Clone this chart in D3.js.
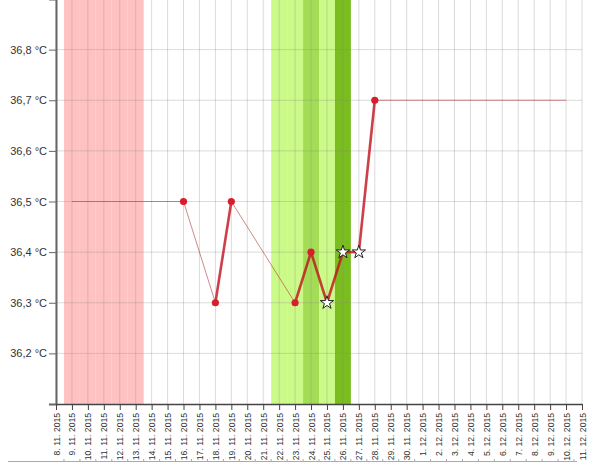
<!DOCTYPE html>
<html>
<head>
<meta charset="utf-8">
<script src="https://cdn.jsdelivr.net/npm/d3@7/dist/d3.min.js"></script>
<style>
    body { margin: 0; background: #fff; }
    svg { display: block; }
    text { font-family: "Liberation Sans", Arial, sans-serif; }
</style>
</head>
<body>
<script>
// x axis days (tick labels)
var tickLabels = ["8. 11. 2015", "9. 11. 2015", "10. 11. 2015", "11. 11. 2015", "12. 11. 2015",
    "13. 11. 2015", "14. 11. 2015", "15. 11. 2015", "16. 11. 2015", "17. 11. 2015",
    "18. 11. 2015", "19. 11. 2015", "20. 11. 2015", "21. 11. 2015", "22. 11. 2015",
    "23. 11. 2015", "24. 11. 2015", "25. 11. 2015", "26. 11. 2015", "27. 11. 2015",
    "28. 11. 2015", "29. 11. 2015", "30. 11. 2015", "1. 12. 2015", "2. 12. 2015",
    "3. 12. 2015", "4. 12. 2015", "5. 12. 2015", "6. 12. 2015", "7. 12. 2015",
    "8. 12. 2015", "9. 12. 2015", "10. 12. 2015", "11. 12. 2015"];

var yTicks = [36.2, 36.3, 36.4, 36.5, 36.6, 36.7, 36.8];

// measured temperatures
var measureDays = ["16. 11. 2015", "18. 11. 2015", "19. 11. 2015", "23. 11. 2015", "24. 11. 2015",
    "25. 11. 2015", "26. 11. 2015", "27. 11. 2015", "28. 11. 2015"];
var measureTemps = [36.5, 36.3, 36.5, 36.3, 36.4, 36.3, 36.4, 36.4, 36.7];
var measureMarks = ["dot", "dot", "dot", "dot", "dot", "star", "star", "star", "dot"];

// line continued before first / after last measure
var leadDay = "9. 11. 2015", leadTemp = 36.5;
var trailDay = "10. 12. 2015", trailTemp = 36.7;

// coloured day bands
var bandDays = ["9. 11. 2015", "10. 11. 2015", "11. 11. 2015", "12. 11. 2015", "13. 11. 2015",
    "22. 11. 2015", "23. 11. 2015", "24. 11. 2015", "25. 11. 2015", "26. 11. 2015"];
var bandKinds = ["period", "period", "period", "period", "period",
    "fertile", "fertile", "fertileHigh", "fertile", "peak"];

var bandColors = {
    period: "#ffc2c2",
    fertile: "#cbfa88",
    fertileHigh: "#a4dd55",
    peak: "#79bd1f"
};

var width = 600,
    height = 463;

var svg = d3.select('body')
    .append('svg')
    .attr('width', width)
    .attr('height', height);

var x = d3.scalePoint()
    .domain(tickLabels)
    .range([56, 582]);

var step = x.step();

var y = d3.scaleLinear()
    .domain([36.1, 36.9])
    .range([404, -1]);

// bands
for (var b = 0; b < bandDays.length; ++b) {
    svg.append("rect")
        .attr("x", x(bandDays[b]) - step / 2)
        .attr("y", 0)
        .attr("width", step)
        .attr("height", y(36.1))
        .attr("fill", bandColors[bandKinds[b]]);
}

// grid
svg.append("g")
    .selectAll("line")
    .data(tickLabels)
    .enter()
    .append("line")
    .attr("x1", function (d) { return x(d); })
    .attr("x2", function (d) { return x(d); })
    .attr("y1", 0)
    .attr("y2", y(36.1))
    .attr("stroke", "#888")
    .attr("stroke-opacity", 0.3);

svg.append("g")
    .selectAll("line")
    .data(yTicks)
    .enter()
    .append("line")
    .attr("x1", 56)
    .attr("x2", 582)
    .attr("y1", function (d) { return y(d); })
    .attr("y2", function (d) { return y(d); })
    .attr("stroke", "#888")
    .attr("stroke-opacity", 0.3);

// y axis
var yAxis = d3.axisLeft(y)
    .tickValues(yTicks)
    .tickSize(7)
    .tickPadding(2)
    .tickFormat(function (d) { return d3.format(".1f")(d).replace(".", ",") + " \u00b0C"; });

var gy = svg.append("g")
    .attr("transform", "translate(56,0)")
    .call(yAxis);
gy.select(".domain").attr("stroke", "#666").attr("stroke-width", 2);
gy.selectAll(".tick line").attr("stroke", "#666");
gy.selectAll("text").attr("fill", "#333").style("font-size", "11px");

// x axis
var xAxis = d3.axisBottom(x)
    .tickSize(6)
    .tickSizeOuter(0);

var gx = svg.append("g")
    .attr("transform", "translate(0," + y(36.1) + ")")
    .call(xAxis);
gx.select(".domain").attr("stroke", "#444").attr("stroke-width", 1.5);
gx.selectAll(".tick line").attr("stroke", "#444");
gx.selectAll("text")
    .attr("fill", "#333")
    .style("font-size", "8.6px")
    .attr("text-anchor", "end")
    .attr("transform", "rotate(-90)")
    .attr("x", -9)
    .attr("y", 0)
    .attr("dy", "0.35em");

// cut off axis of the next chart at the bottom
var halfDays = tickLabels.slice(0, tickLabels.length - 1).map(function (d) { return x(d) + step / 2; });
var bottom = svg.append("g");
bottom.append("line")
    .attr("x1", 8).attr("x2", 577)
    .attr("y1", 461.5).attr("y2", 461.5)
    .attr("stroke", "#aaa");
bottom.selectAll("line.t")
    .data(halfDays)
    .enter()
    .append("line")
    .attr("class", "t")
    .attr("x1", function (d) { return d; })
    .attr("x2", function (d) { return d; })
    .attr("y1", 459)
    .attr("y2", 462)
    .attr("stroke", "#aaa");

// temperature lines
var pts = [{ day: leadDay, t: leadTemp }];
for (var i = 0; i < measureDays.length; ++i) {
    pts.push({ day: measureDays[i], t: measureTemps[i], mark: measureMarks[i] });
}
pts.push({ day: trailDay, t: trailTemp });

for (var k = 1; k < pts.length; ++k) {
    var a = pts[k - 1], c = pts[k];
    var gap = tickLabels.indexOf(c.day) - tickLabels.indexOf(a.day);
    var thick = gap == 1;
    svg.append("line")
        .attr("x1", x(a.day))
        .attr("y1", y(a.t))
        .attr("x2", x(c.day))
        .attr("y2", y(c.t))
        .attr("stroke", thick ? "#c0101c" : "#b03a3a")
        .attr("stroke-width", thick ? 2.6 : 1)
        .attr("stroke-opacity", thick ? 0.8 : 0.6);
}

// markers
var star = d3.symbol().type(d3.symbolStar).size(55);
for (var m = 0; m < measureDays.length; ++m) {
    if (measureMarks[m] == "star") {
        svg.append("path")
            .attr("d", star)
            .attr("transform", "translate(" + x(measureDays[m]) + "," + y(measureTemps[m]) + ")")
            .attr("fill", "#fff")
            .attr("stroke", "#222")
            .attr("stroke-width", 1);
    } else {
        svg.append("circle")
            .attr("cx", x(measureDays[m]))
            .attr("cy", y(measureTemps[m]))
            .attr("r", 3.6)
            .attr("fill", "#d61f2c");
    }
}
</script>
</body>
</html>
